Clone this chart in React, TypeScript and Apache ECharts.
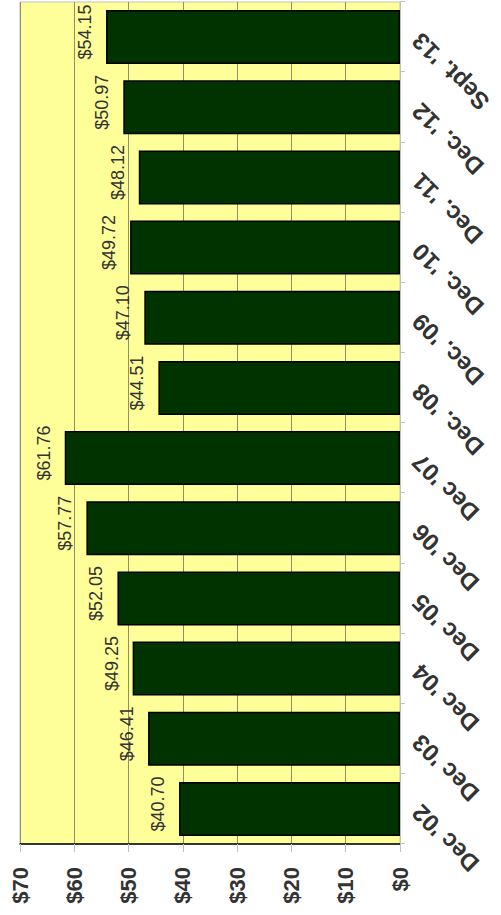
import React, { useEffect, useRef } from "react";
import * as echarts from "echarts";

const categories = [
  "Dec '02", "Dec '03", "Dec '04", "Dec '05", "Dec '06", "Dec '07",
  "Dec. '08", "Dec. '09", "Dec. '10", "Dec. '11", "Dec. '12", "Sept. '13",
];
const values = [40.7, 46.41, 49.25, 52.05, 57.77, 61.76, 44.51, 47.1, 49.72, 48.12, 50.97, 54.15];
const valueMin = 0;
const valueMax = 70;
const valueStep = 10;

export default function App() {
  const ref = useRef<HTMLDivElement>(null);
  useEffect(() => {
    if (!ref.current) return;
    const chart = echarts.init(ref.current, undefined, { renderer: "svg" });
    chart.setOption({
      animation: false,
      grid: {
        left: 71, right: 2, top: 20, bottom: 101,
        show: true, backgroundColor: "#FFFF99", borderColor: "#c0c0c0", borderWidth: 1,
      },
      xAxis: {
        type: "category",
        data: categories,
        axisLine: { lineStyle: { color: "#c0c0c0", width: 1 } },
        axisTick: { show: true, length: 5, lineStyle: { color: "#c0c0c0" } },
        axisLabel: {
          interval: 0, rotate: 45, margin: 16, fontSize: 24, fontWeight: "bold",
          color: "#333333", fontFamily: "'Liberation Sans', Arial, sans-serif",
        },
      },
      yAxis: {
        type: "value",
        min: valueMin, max: valueMax, interval: valueStep,
        axisLine: { show: true, lineStyle: { color: "#000000", width: 1.5 } },
        axisTick: { show: true, length: 8, lineStyle: { color: "#c0c0c0" } },
        axisLabel: {
          formatter: (v: number) => "$" + v,
          fontSize: 22, fontWeight: "bold", color: "#333333", margin: 23,
          fontFamily: "'Liberation Sans', Arial, sans-serif",
        },
        splitLine: { show: true, lineStyle: { color: "#8f8f6a", width: 1 } },
      },
      series: [
        {
          type: "bar",
          data: values,
          barWidth: "77%",
          itemStyle: { color: "#003300", borderColor: "#000000", borderWidth: 1.5 },
          label: {
            show: true, position: "top", distance: 12, offset: [5, 0],
            formatter: (p: any) => "$" + Number(p.value).toFixed(2),
            fontSize: 18, color: "#333333",
            fontFamily: "'Liberation Sans Narrow', 'Arial Narrow', 'Liberation Sans', sans-serif",
          },
        },
      ],
    });
    return () => chart.dispose();
  }, []);
  return (
    <div style={{ position: "absolute", left: 0, top: 0, width: 501, height: 915, overflow: "hidden", background: "#ffffff" }}>
      <div
        ref={ref}
        style={{
          position: "absolute", left: 0, top: 0, width: 915, height: 501,
          transformOrigin: "0 0", transform: "translate(0px, 915px) rotate(-90deg)",
        }}
      />
    </div>
  );
}
